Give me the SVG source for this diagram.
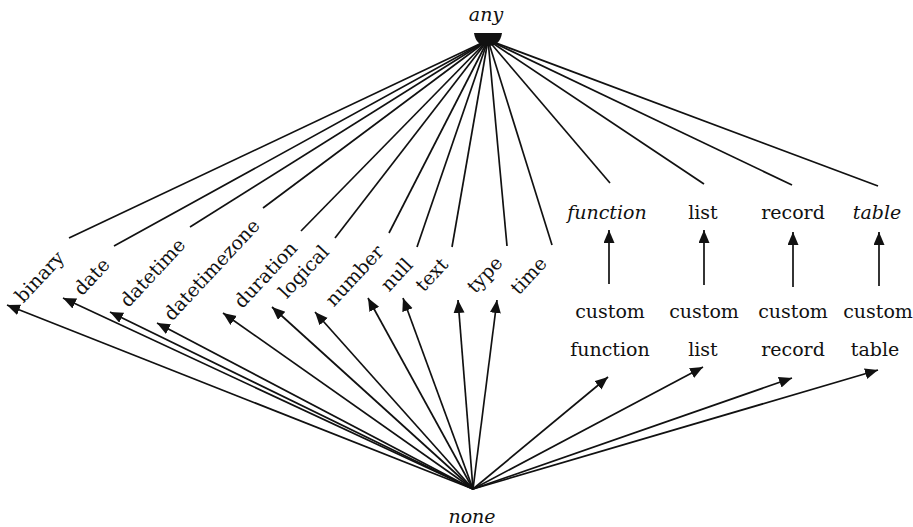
<svg xmlns="http://www.w3.org/2000/svg" width="913" height="527" viewBox="0 0 913 527">
<style>
text{font-family:"DejaVu Serif","Liberation Serif",serif;font-size:19px;fill:#111}
.it{font-style:italic}
.c{stroke:#111;stroke-width:1.7;fill:none}
</style>
<defs>
<marker id="ah" markerUnits="userSpaceOnUse" markerWidth="14" markerHeight="12" refX="13" refY="5.5" orient="auto">
<path d="M0,0 L13,5.5 L0,11 Z" fill="#111"/>
</marker>
</defs>
<rect width="913" height="527" fill="#fff"/>
<g id="connectors">
<g class="c">
<line x1="69" y1="238" x2="488" y2="40"/>
<line x1="114" y1="246" x2="488" y2="40"/>
<line x1="190" y1="227" x2="488" y2="40"/>
<line x1="263" y1="208" x2="488" y2="40"/>
<line x1="301" y1="231" x2="488" y2="40"/>
<line x1="335" y1="238" x2="488" y2="40"/>
<line x1="389" y1="233" x2="488" y2="40"/>
<line x1="417" y1="247" x2="488" y2="40"/>
<line x1="452" y1="247" x2="488" y2="40"/>
<line x1="507" y1="246" x2="488" y2="40"/>
<line x1="552" y1="245" x2="488" y2="40"/>
<line x1="610" y1="183" x2="488" y2="40"/>
<line x1="704" y1="184" x2="488" y2="40"/>
<line x1="792" y1="185" x2="488" y2="40"/>
<line x1="878" y1="186" x2="488" y2="40"/>
</g>
<path d="M474,33 L502,33 Q500,46 488,46 Q476,46 474,33 Z" fill="#111"/>
<g class="c" marker-end="url(#ah)">
<line x1="473" y1="489" x2="7" y2="305"/>
<line x1="473" y1="489" x2="63" y2="298"/>
<line x1="473" y1="489" x2="110" y2="312"/>
<line x1="473" y1="489" x2="157" y2="323"/>
<line x1="473" y1="489" x2="223" y2="313"/>
<line x1="473" y1="489" x2="272" y2="307"/>
<line x1="473" y1="489" x2="315" y2="312"/>
<line x1="473" y1="489" x2="368" y2="298"/>
<line x1="473" y1="489" x2="403" y2="298"/>
<line x1="473" y1="489" x2="458" y2="300"/>
<line x1="473" y1="489" x2="497" y2="300"/>
<line x1="473" y1="489" x2="608" y2="377"/>
<line x1="473" y1="489" x2="703" y2="367"/>
<line x1="473" y1="489" x2="792" y2="378"/>
<line x1="473" y1="489" x2="878" y2="370"/>
<line x1="609" y1="284" x2="609" y2="230"/>
<line x1="704" y1="285" x2="704" y2="230"/>
<line x1="793" y1="287" x2="793" y2="232"/>
<line x1="879" y1="286" x2="879" y2="232"/>
</g>
</g>
<g id="any"><text class="it" x="486" y="21" text-anchor="middle">any</text></g>
<g id="none"><text class="it" x="472" y="523" text-anchor="middle">none</text></g>
<g id="binary"><text transform="translate(40,277) rotate(-47)" x="0" y="6" text-anchor="middle">binary</text></g>
<g id="date"><text transform="translate(92,277) rotate(-47)" x="0" y="6" text-anchor="middle">date</text></g>
<g id="datetime"><text transform="translate(153,273) rotate(-47)" x="0" y="6" text-anchor="middle">datetime</text></g>
<g id="datetimezone"><text transform="translate(212,270) rotate(-47)" x="0" y="6" text-anchor="middle">datetimezone</text></g>
<g id="duration"><text transform="translate(266,275) rotate(-47)" x="0" y="6" text-anchor="middle">duration</text></g>
<g id="logical"><text transform="translate(304,272) rotate(-47)" x="0" y="6" text-anchor="middle">logical</text></g>
<g id="number"><text transform="translate(355,276) rotate(-47)" x="0" y="6" text-anchor="middle">number</text></g>
<g id="null"><text transform="translate(397,275) rotate(-47)" x="0" y="6" text-anchor="middle">null</text></g>
<g id="text"><text transform="translate(432,275) rotate(-47)" x="0" y="6" text-anchor="middle">text</text></g>
<g id="type"><text transform="translate(485,275) rotate(-47)" x="0" y="6" text-anchor="middle">type</text></g>
<g id="time"><text transform="translate(529,276) rotate(-47)" x="0" y="6" text-anchor="middle">time</text></g>
<g id="function"><text class="it" x="607" y="219" text-anchor="middle">function</text></g>
<g id="list"><text x="703" y="219" text-anchor="middle">list</text></g>
<g id="record"><text x="793" y="219" text-anchor="middle">record</text></g>
<g id="table"><text class="it" x="877" y="219" text-anchor="middle">table</text></g>
<g id="custom-function"><text x="610" y="318" text-anchor="middle">custom</text><text x="610" y="356" text-anchor="middle">function</text></g>
<g id="custom-list"><text x="704" y="318" text-anchor="middle">custom</text><text x="703" y="356" text-anchor="middle">list</text></g>
<g id="custom-record"><text x="793" y="318" text-anchor="middle">custom</text><text x="793" y="356" text-anchor="middle">record</text></g>
<g id="custom-table"><text x="878" y="318" text-anchor="middle">custom</text><text x="875" y="356" text-anchor="middle">table</text></g>
</svg>
